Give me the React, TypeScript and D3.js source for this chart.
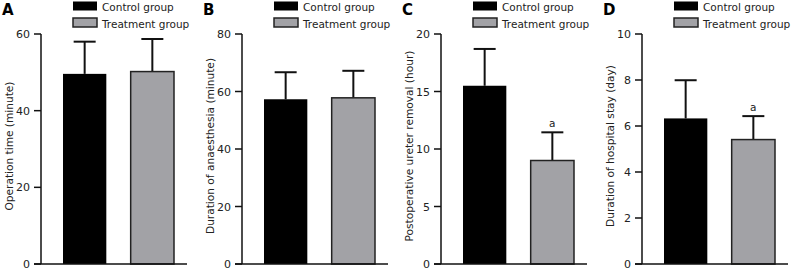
import React from "react";
import * as d3 from "d3";

const panelLetters = ["A", "B", "C", "D"];
const yTitles = [
  "Operation time (minute)",
  "Duration of anaesthesia (minute)",
  "Postoperative ureter removal (hour)",
  "Duration of hospital stay (day)",
];
const yMaxima = [60, 80, 20, 10];
const yTickSteps = [20, 20, 5, 2];
const groups = ["Control group", "Treatment group"];
const controlMeans = [49.6, 57.3, 15.5, 6.33];
const controlErrors = [8.4, 9.4, 3.2, 1.66];
const treatmentMeans = [50.2, 57.8, 9.0, 5.41];
const treatmentErrors = [8.5, 9.4, 2.45, 1.02];
const sigMarks = ["", "", "a", "a"];

const W = 793;
const H = 270;
const axisXs = [41, 242, 441, 642];
const plotTop = 34;
const plotBottom = 264;
const font = "'DejaVu Sans', Verdana, sans-serif";
const colors = ["#000000", "#a2a2a6"];

function Panel({ i }: { i: number }) {
  const x0 = axisXs[i];
  const y = d3.scaleLinear().domain([0, yMaxima[i]]).range([plotBottom, plotTop]);
  const x = d3
    .scaleBand<string>()
    .domain(groups)
    .range([x0 + 22, x0 + 133])
    .paddingInner(0.36);
  const ticks = d3.range(0, yMaxima[i] + 1e-9, yTickSteps[i]);
  const means = [controlMeans[i], treatmentMeans[i]];
  const errs = [controlErrors[i], treatmentErrors[i]];
  const bw = x.bandwidth();
  return (
    <g>
      <text x={x0 - 39} y={15} fontFamily={font} fontWeight="bold" fontSize={15}>
        {panelLetters[i]}
      </text>
      {groups.map((g, k) => (
        <g key={g}>
          <rect
            x={x0 + 32}
            y={k === 0 ? 1.5 : 18}
            width={24}
            height={9}
            fill={colors[k]}
            stroke="#222"
            strokeWidth={k === 0 ? 0 : 1.5}
          />
          <text x={x0 + 61} y={k === 0 ? 11 : 27.5} fontFamily={font} fontSize={10.5} fill="#222">
            {g}
          </text>
        </g>
      ))}
      {groups.map((g, k) => {
        const cx = (x(g) as number) + bw / 2;
        const top = y(means[k]);
        const etop = y(means[k] + errs[k]);
        return (
          <g key={g}>
            <line x1={cx} x2={cx} y1={top} y2={etop} stroke="#111" strokeWidth={2} />
            <line x1={cx - 11} x2={cx + 11} y1={etop} y2={etop} stroke="#111" strokeWidth={2} />
            <rect
              x={x(g) as number}
              y={top}
              width={bw}
              height={plotBottom - top}
              fill={colors[k]}
              stroke="#222"
              strokeWidth={k === 0 ? 0 : 1.5}
            />
            {k === 1 && sigMarks[i] ? (
              <text x={cx} y={etop - 5} textAnchor="middle" fontFamily={font} fontSize={10.5} fill="#222">
                {sigMarks[i]}
              </text>
            ) : null}
          </g>
        );
      })}
      <line x1={x0} x2={x0} y1={plotTop} y2={plotBottom} stroke="#111" strokeWidth={1.5} />
      <line x1={x0 - 7} x2={x0 + 146} y1={plotBottom} y2={plotBottom} stroke="#111" strokeWidth={1.5} />
      {ticks.map((t) => (
        <g key={t}>
          <line x1={x0 - 7} x2={x0} y1={y(t)} y2={y(t)} stroke="#111" strokeWidth={1.5} />
          <text
            x={x0 - 11}
            y={y(t) + 4}
            textAnchor="end"
            fontFamily={font}
            fontSize={11}
            fill="#222"
          >
            {t}
          </text>
        </g>
      ))}
      <text
        transform={`translate(${x0 - 32},${(plotTop + plotBottom) / 2 - 3}) rotate(-90)`}
        textAnchor="middle"
        dy="0.35em"
        fontFamily={font}
        fontSize={10.6}
        fill="#222"
      >
        {yTitles[i]}
      </text>
    </g>
  );
}

export default function App() {
  return (
    <svg
      width={W}
      height={H}
      style={{ position: "absolute", left: 0, top: 0, background: "#fff" }}
    >
      <rect width={W} height={H} fill="#fff" />
      {panelLetters.map((_, i) => (
        <Panel key={i} i={i} />
      ))}
    </svg>
  );
}
